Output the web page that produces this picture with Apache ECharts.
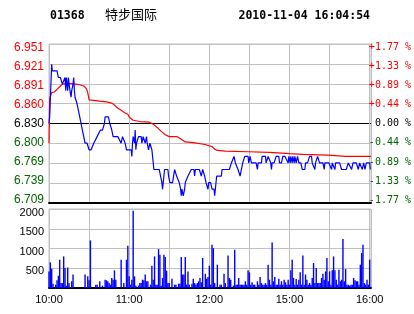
<!DOCTYPE html>
<html><head><meta charset="utf-8">
<script src="https://cdn.jsdelivr.net/npm/echarts@6/dist/echarts.min.js"></script>
<style>html,body{margin:0;padding:0;background:#fff}#c{width:414px;height:314px}</style>
</head><body><div id="c"></div>
<script>
const stockCode = '01368';
const stockName = '特步国际';
const stamp = '2010-11-04 16:04:54';
const prevClose = 6.83;
const priceTickLabels = ['6.951','6.921','6.891','6.860','6.830','6.800','6.769','6.739','6.709'];
const pctTickLabels = ['+1.77 %','+1.33 %','+0.89 %','+0.44 %','0.00 %','-0.44 %','-0.89 %','-1.33 %','-1.77 %'];
const volTickValues = [0, 500, 1000, 1500, 2000];
const timeTickMinutes = [0, 60, 120, 180, 240];
const timeTickLabels = ['10:00', '11:00', '12:00', '15:00', '16:00'];

const priceTimes = [0,0.5,2,2.5,6,7,8.5,10,11,12,12.5,13,14,14.5,15,16,16.5,17,18,18.5,19,19.5,20,21,22,23,24,25,26,27,28.5,30,31.5,33.5,36,38.5,40,41.5,42,44.5,45.5,47,48,51.5,54,55,56,57,58,61.5,62,62.5,63,64,64.5,65,65.5,67,69,69.5,70.5,71.5,72,73,73.5,74.5,75.5,76.5,77,78.5,82.5,83.5,84.5,85,86,86.5,89,89.5,90.5,92.5,94,95.5,97.5,98.5,99,99.5,100.5,101.5,102,104,106.5,108.5,109,109.5,112.5,114,115,116.5,117.5,119,119.5,121,122,123.5,124,124.5,125.5,129,129.5,135,136.5,138.5,139.5,141.5,143,144,145,146.5,149,149.5,150.5,151.5,155,156,156.5,159,159.5,162,162.5,164,165,166,166.5,167,168.5,170,172,172.5,174,175,176.5,179,179.5,180.5,181,182,182.5,183.5,184,185,186,187,188.5,189.5,191.5,192,193.5,195,196.5,197,198,199,199.5,201,202,202.5,205,206,206.5,209.5,211.5,212,214,214.5,217.5,219,222.5,224,226.5,227.5,230,231.5,232.5,234.5,235.5,236.5,237.5,240,240.5];
const prices = [6.83,6.84,6.92,6.91,6.91,6.90,6.90,6.89,6.89,6.90,6.88,6.90,6.88,6.90,6.89,6.89,6.87,6.88,6.89,6.90,6.88,6.87,6.87,6.86,6.85,6.84,6.83,6.82,6.81,6.80,6.80,6.79,6.79,6.80,6.81,6.82,6.82,6.83,6.84,6.84,6.83,6.82,6.81,6.81,6.80,6.81,6.81,6.80,6.79,6.79,6.78,6.80,6.81,6.80,6.82,6.79,6.80,6.81,6.81,6.80,6.81,6.81,6.80,6.81,6.80,6.79,6.80,6.80,6.79,6.76,6.76,6.75,6.74,6.73,6.75,6.76,6.76,6.75,6.74,6.74,6.76,6.75,6.74,6.73,6.72,6.73,6.72,6.73,6.74,6.75,6.76,6.76,6.75,6.76,6.76,6.75,6.76,6.75,6.74,6.73,6.74,6.74,6.73,6.73,6.72,6.73,6.75,6.75,6.76,6.76,6.77,6.78,6.77,6.76,6.75,6.76,6.77,6.78,6.78,6.77,6.78,6.77,6.77,6.76,6.77,6.77,6.78,6.78,6.77,6.78,6.78,6.77,6.76,6.77,6.77,6.78,6.78,6.77,6.77,6.78,6.78,6.77,6.78,6.77,6.78,6.77,6.78,6.77,6.78,6.77,6.78,6.77,6.77,6.76,6.76,6.77,6.77,6.78,6.78,6.77,6.77,6.76,6.77,6.78,6.78,6.77,6.77,6.76,6.77,6.77,6.76,6.77,6.76,6.77,6.77,6.76,6.76,6.77,6.76,6.77,6.77,6.76,6.77,6.76,6.77,6.76,6.77,6.77,6.76];

const avgTimes = [0,0.5,2,4,6,8,10,15,20,23,26,28,29,30,31,38,43,47,49,51,54,57,59,60,63,68,75,78,81,84,87,90,96,99,102,108,117,120,122,124,126,132,149,165,180,190,209,222,241];
const avgPrices = [6.800,6.868,6.877,6.878,6.882,6.886,6.890,6.891,6.890,6.889,6.887,6.883,6.877,6.866,6.864,6.864,6.863,6.861,6.858,6.854,6.850,6.846,6.844,6.840,6.835,6.833,6.832,6.829,6.824,6.818,6.813,6.810,6.810,6.806,6.802,6.801,6.798,6.796,6.795,6.791,6.789,6.788,6.787,6.786,6.784,6.783,6.782,6.780,6.780];

const volumes = [420,650,490,110,0,85,195,310,715,125,125,800,505,60,520,125,0,170,340,0,0,0,0,0,0,0,0,340,0,295,195,1205,0,0,0,85,85,0,170,0,60,0,210,195,170,125,85,255,210,447,210,0,0,0,715,0,125,0,715,1070,295,85,210,1955,295,60,0,60,125,125,210,195,340,170,170,0,85,565,210,800,85,85,985,843,60,255,843,785,440,125,125,0,236,0,85,85,0,110,110,785,340,340,785,85,420,85,0,110,236,125,85,125,170,255,145,760,0,360,236,280,565,85,1095,1010,125,0,590,0,85,85,0,360,125,0,820,255,210,0,60,970,85,85,255,85,85,85,85,170,85,447,396,85,145,85,85,0,170,85,280,125,85,85,125,85,590,210,85,1155,170,280,85,85,236,85,170,85,210,145,85,210,85,447,715,255,85,230,85,210,396,85,820,85,340,210,85,125,85,255,632,125,505,125,125,125,255,360,210,420,760,170,420,85,447,800,447,210,85,465,170,210,1240,170,480,85,85,60,85,85,255,195,170,170,85,590,885,1095,125,85,210,85,715];

const RED = '#ff0000', GREEN = '#006400', GREYL = '#c0c0c0';
const step = (parseFloat(priceTickLabels[0]) - parseFloat(priceTickLabels[8])) / 8;
const toIdx = p => (p - prevClose) / step;
const lineData = priceTimes.map((t, i) => [t, toIdx(prices[i])]);
const avgData = avgTimes.map((t, i) => [t, toIdx(avgPrices[i])]);
const volData = volumes.map((v, i) => [i, v]);
const sideColor = v => v > 0 ? RED : (v < 0 ? GREEN : '#000');
const timeFmt = v => { const k = timeTickMinutes.indexOf(v); return k >= 0 ? timeTickLabels[k] : ''; };
const volFmt = v => volTickValues.indexOf(v) >= 0 ? String(v) : '';

const hLineColors = ['#000', GREYL, GREYL, GREYL, '#000', GREYL, GREYL, GREYL, GREYL];

const chart = echarts.init(document.getElementById('c'), null, {renderer: 'canvas'});
chart.setOption({
  animation: false,
  backgroundColor: '#fff',
  graphic: [
    {type: 'text', left: 50, top: 10, style: {text: stockCode, font: 'bold 11.5px "DejaVu Sans Mono"', fill: '#000'}},
    {type: 'text', left: 105, top: 8, style: {text: stockName, font: '13px "Noto Sans CJK SC"', fill: '#000'}},
    {type: 'text', right: 44, top: 10, style: {text: stamp, font: 'bold 11.5px "DejaVu Sans Mono"', fill: '#000'}}
  ],
  grid: [
    {left: 49, top: 44, width: 322, height: 159, show: true, borderColor: GREYL, borderWidth: 1, containLabel: false},
    {left: 49, top: 209, width: 322, height: 79, show: true, borderColor: GREYL, borderWidth: 1, containLabel: false},
    {left: 49, top: 47.7, width: 322, height: 152.3, containLabel: false},
    {left: 49, top: 213.3, width: 322, height: 76.5, containLabel: false}
  ],
  xAxis: [
    {type: 'value', gridIndex: 0, min: 0, max: 241, interval: 30,
     axisLine: {show: true, onZero: false, lineStyle: {color: '#000', width: 2}},
     axisTick: {show: false}, axisLabel: {show: false},
     splitLine: {show: true, lineStyle: {color: GREYL, width: 1}}},
    {type: 'value', gridIndex: 1, min: 0, max: 241, interval: 30,
     axisLine: {show: true, onZero: false, lineStyle: {color: '#000', width: 2}},
     axisTick: {show: false},
     axisLabel: {show: true, formatter: timeFmt, color: '#000', fontFamily: 'Liberation Sans', fontSize: 11, margin: 6, showMaxLabel: false},
     splitLine: {show: true, lineStyle: {color: GREYL, width: 1}}},
    {type: 'value', gridIndex: 2, min: 0, max: 241, show: false},
    {type: 'value', gridIndex: 3, min: 0, max: 241, show: false}
  ],
  yAxis: [
    {type: 'value', gridIndex: 0, min: -4, max: 4, interval: 1,
     axisLine: {show: false}, axisTick: {show: false}, axisLabel: {show: false},
     splitLine: {show: true, lineStyle: {color: hLineColors, width: 1}}},
    {type: 'value', gridIndex: 1, min: 0, max: 2000, interval: 500,
     axisLine: {show: false}, axisTick: {show: false}, axisLabel: {show: false},
     splitLine: {show: true, lineStyle: {color: GREYL, width: 1}}},
    {type: 'value', gridIndex: 2, position: 'left', min: -4, max: 4, interval: 1,
     axisLine: {show: false}, axisTick: {show: false}, splitLine: {show: false},
     axisLabel: {show: true, margin: 5, fontFamily: 'Liberation Sans', fontSize: 12,
       formatter: v => priceTickLabels[4 - v], color: v => sideColor(v)}},
    {type: 'value', gridIndex: 2, position: 'right', min: -4, max: 4, interval: 1,
     axisLine: {show: false}, axisTick: {show: false}, splitLine: {show: false},
     axisLabel: {show: true, margin: 43, align: 'right', fontFamily: 'DejaVu Sans Mono', fontSize: 10,
       formatter: v => pctTickLabels[4 - v], color: v => sideColor(v)}},
    {type: 'value', gridIndex: 3, position: 'left', min: 0, max: 2000, interval: 500,
     axisLine: {show: false}, axisTick: {show: false}, splitLine: {show: false},
     axisLabel: {show: true, margin: 5, fontFamily: 'Liberation Sans', fontSize: 11, color: '#000', showMinLabel: false, formatter: volFmt}}
  ],
  series: [
    {type: 'line', xAxisIndex: 0, yAxisIndex: 0, data: avgData, showSymbol: false, symbol: 'none',
     lineStyle: {color: RED, width: 1.2}, z: 3},
    {type: 'line', xAxisIndex: 0, yAxisIndex: 0, data: lineData, showSymbol: false, symbol: 'none',
     lineStyle: {color: '#0000ff', width: 1.2}, z: 4},
    {type: 'bar', xAxisIndex: 1, yAxisIndex: 1, data: volData, barWidth: 1.4,
     itemStyle: {color: '#0000ff'}}
  ]
});
</script></body></html>
